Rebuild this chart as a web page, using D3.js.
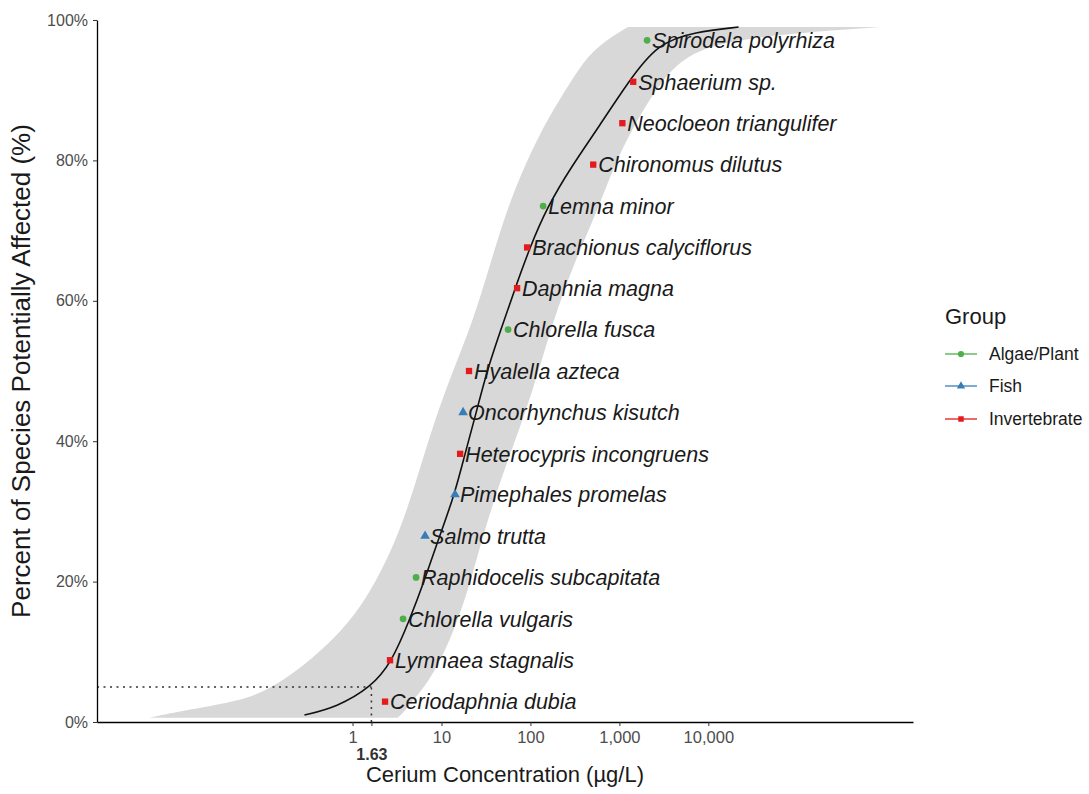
<!DOCTYPE html>
<html>
<head>
<meta charset="utf-8">
<script src="https://cdn.jsdelivr.net/npm/d3@7"></script>
<style>
  body { margin: 0; background: #ffffff; }
  svg { display: block; font-family: "Liberation Sans", Arial, Helvetica, sans-serif; }
</style>
</head>
<body>
<svg id="chart" width="1089" height="794"></svg>
<script>
// Species sensitivity data: one entry per species, sorted by concentration
const species = [
  "Ceriodaphnia dubia", "Lymnaea stagnalis", "Chlorella vulgaris", "Raphidocelis subcapitata",
  "Salmo trutta", "Pimephales promelas", "Heterocypris incongruens", "Oncorhynchus kisutch",
  "Hyalella azteca", "Chlorella fusca", "Daphnia magna", "Brachionus calyciflorus",
  "Lemna minor", "Chironomus dilutus", "Neocloeon triangulifer", "Sphaerium sp.", "Spirodela polyrhiza"
];
const speciesGroup = [
  "Invertebrate", "Invertebrate", "Algae/Plant", "Algae/Plant",
  "Fish", "Fish", "Invertebrate", "Fish",
  "Invertebrate", "Algae/Plant", "Invertebrate", "Invertebrate",
  "Algae/Plant", "Invertebrate", "Invertebrate", "Invertebrate", "Algae/Plant"
];
// Concentration (µg/L)
const concentration = [2.32, 2.64, 3.7, 5.18, 6.54, 14.2, 16.2, 17.5, 20.4, 56.1, 70.8, 91.8, 139, 508, 1080, 1430, 2050];
// Percent of species affected (plotting position)
const percentAffected = [2.9, 8.8, 14.7, 20.6, 26.5, 32.4, 38.2, 44.1, 50.0, 55.9, 61.8, 67.6, 73.5, 79.4, 85.3, 91.2, 97.1];

// Fitted distribution curve
const fitPercent = [1.0, 2.1, 5.0, 8.5, 14.5, 20.2, 26.2, 32.1, 38.0, 44.0, 50.0, 55.6, 61.5, 67.5, 73.4, 79.1, 85.0, 91.0, 96.7, 98.3, 99.0];
const fitConc = [0.288, 0.661, 1.63, 2.75, 4.37, 6.46, 9.33, 13.8, 18.2, 24.5, 32.4, 45.7, 66.1, 97.7, 155, 288, 603, 1230, 2690, 7080, 21900];

// Confidence band
const bandPercent = [0.6, 1.5, 3, 5, 9, 14, 20, 27, 35, 43, 50, 57, 65, 73, 80, 86, 91, 95, 97.5, 99];
const bandLower = [0.0052, 0.011, 0.058, 0.132, 0.355, 0.92, 1.86, 3.38, 5.4, 8.4, 13.4, 22.4, 34.9, 54.2, 91, 157, 278, 443, 783, 1250];
const bandUpper = [3.2, 3.85, 4.7, 6.5, 10.0, 14.8, 21.3, 29.9, 47.6, 82, 124, 179, 300, 574, 916, 1620, 2860, 5480, 20000, 861000];

// Hazard concentration for 5% of species
const hc5 = 1.63;
const hc5Percent = 5;

const groupNames = ["Algae/Plant", "Fish", "Invertebrate"];
const groupColors = ["#4DAF4A", "#377EB8", "#E41A1C"];
const groupShapes = [d3.symbolCircle, d3.symbolTriangle, d3.symbolSquare];

const xTicks = [1, 10, 100, 1000, 10000];
const yTicks = [0, 20, 40, 60, 80, 100];
const xDomain = [0.00134, 2.0e6];

// Layout
const panel = { left: 97, right: 913, top: 20, bottom: 722 };
const svg = d3.select("#chart");

const x = d3.scaleLog().domain(xDomain).range([panel.left, panel.right]);
const y = d3.scaleLinear().domain([0, 100]).range([panel.bottom, panel.top]);
const color = d3.scaleOrdinal().domain(groupNames).range(groupColors);
const shape = d3.scaleOrdinal().domain(groupNames).range(groupShapes);

// Confidence band
const band = bandPercent.map((p, i) => ({ p, lo: bandLower[i], hi: bandUpper[i] }));
svg.append("path")
  .datum(band)
  .attr("fill", "#d8d8d8")
  .attr("d", d3.area()
    .y(d => y(d.p))
    .x0(d => x(d.lo))
    .x1(d => x(d.hi))
    .curve(d3.curveBasis));

// HC5 reference lines
svg.append("line")
  .attr("x1", panel.left).attr("x2", x(hc5))
  .attr("y1", y(hc5Percent)).attr("y2", y(hc5Percent))
  .attr("stroke", "#333").attr("stroke-width", 1.5)
  .attr("stroke-dasharray", "2,4.5");
svg.append("line")
  .attr("x1", x(hc5)).attr("x2", x(hc5))
  .attr("y1", panel.bottom).attr("y2", y(hc5Percent))
  .attr("stroke", "#333").attr("stroke-width", 1.5)
  .attr("stroke-dasharray", "2,4.5");

// Fitted curve
const fit = fitPercent.map((p, i) => ({ p, c: fitConc[i] }));
svg.append("path")
  .datum(fit)
  .attr("fill", "none")
  .attr("stroke", "#111")
  .attr("stroke-width", 1.6)
  .attr("d", d3.line()
    .x(d => x(d.c))
    .y(d => y(d.p))
    .curve(d3.curveBasis));

// Species points and labels
const rows = species.map((s, i) => ({
  name: s, group: speciesGroup[i], c: concentration[i], p: percentAffected[i]
}));

svg.append("g").selectAll("path")
  .data(rows)
  .join("path")
  .attr("transform", d => `translate(${x(d.c)},${y(d.p)})`)
  .attr("d", d => d3.symbol().type(shape(d.group)).size(d.group === "Algae/Plant" ? 36 : 40)())
  .attr("fill", d => color(d.group));

svg.append("g").selectAll("text")
  .data(rows)
  .join("text")
  .attr("x", d => x(d.c) + 5)
  .attr("y", d => y(d.p))
  .attr("dy", "0.36em")
  .attr("font-size", "21.5px")
  .attr("font-style", "italic")
  .attr("fill", "#1a1a1a")
  .text(d => d.name);

// Axes
const xAxis = svg.append("g")
  .attr("transform", `translate(0,${panel.bottom})`)
  .call(d3.axisBottom(x).tickValues(xTicks).tickFormat(d3.format(",")).tickSize(4).tickSizeOuter(0).tickPadding(5));
xAxis.select(".domain").attr("stroke", "#000").attr("stroke-width", 1.3);
xAxis.selectAll(".tick line").attr("stroke", "#333");
xAxis.selectAll(".tick text").attr("font-size", "16.5px").attr("fill", "#4d4d4d").attr("font-family", null);

const hcAxis = svg.append("g")
  .attr("transform", `translate(0,${panel.bottom})`)
  .call(d3.axisBottom(x).tickValues([hc5]).tickFormat(d3.format(".2f")).tickSize(4).tickPadding(23));
hcAxis.select(".domain").remove();
hcAxis.selectAll(".tick line").attr("stroke", "#333");
hcAxis.selectAll(".tick text").attr("font-size", "16px").attr("font-weight", "bold")
  .attr("fill", "#333").attr("font-family", null);

const yAxis = svg.append("g")
  .attr("transform", `translate(${panel.left},0)`)
  .call(d3.axisLeft(y).tickValues(yTicks).tickFormat(d => d + "%").tickSize(4).tickSizeOuter(0).tickPadding(5));
yAxis.select(".domain").attr("stroke", "#000").attr("stroke-width", 1.3);
yAxis.selectAll(".tick line").attr("stroke", "#333");
yAxis.selectAll(".tick text").attr("font-size", "16px").attr("fill", "#4d4d4d").attr("font-family", null);

// Axis titles
svg.append("text")
  .attr("x", (panel.left + panel.right) / 2)
  .attr("y", 782)
  .attr("text-anchor", "middle")
  .attr("font-size", "22px")
  .attr("fill", "#1a1a1a")
  .text("Cerium Concentration (µg/L)");

svg.append("text")
  .attr("transform", `translate(30,${(panel.top + panel.bottom) / 2}) rotate(-90)`)
  .attr("text-anchor", "middle")
  .attr("font-size", "26px")
  .attr("fill", "#1a1a1a")
  .text("Percent of Species Potentially Affected (%)");

// Legend
const legend = svg.append("g").attr("transform", "translate(945,0)");
legend.append("text")
  .attr("x", 0).attr("y", 324)
  .attr("font-size", "22px")
  .attr("fill", "#1a1a1a")
  .text("Group");
const legendY = [354, 386, 419];
groupNames.forEach((g, i) => {
  const row = legend.append("g").attr("transform", `translate(0,${legendY[i]})`);
  row.append("line").attr("x1", 0).attr("x2", 32).attr("y1", 0).attr("y2", 0)
    .attr("stroke", color(g)).attr("stroke-width", 1.3);
  row.append("path")
    .attr("transform", "translate(16,0)")
    .attr("d", d3.symbol().type(shape(g)).size(30)())
    .attr("fill", color(g));
  row.append("text")
    .attr("x", 44).attr("y", 0).attr("dy", "0.36em")
    .attr("font-size", "17.5px")
    .attr("fill", "#1a1a1a")
    .text(g);
});
</script>
</body>
</html>
